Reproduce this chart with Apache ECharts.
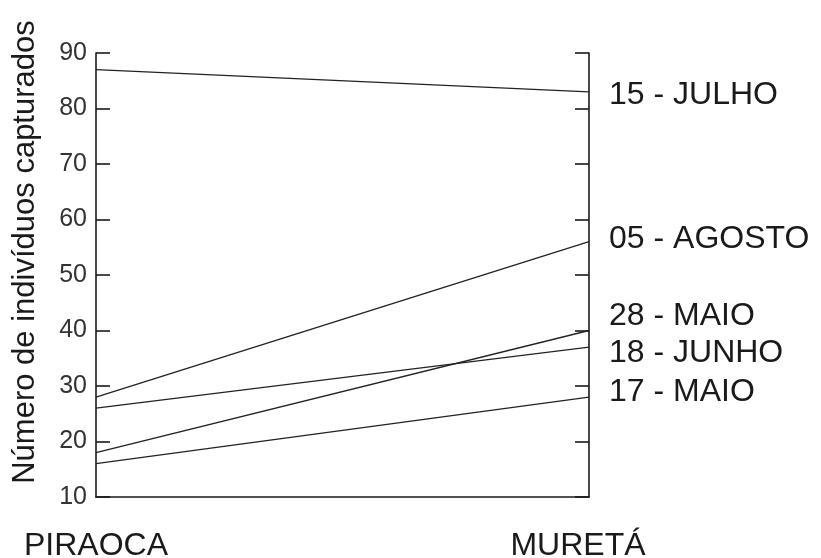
<!DOCTYPE html>
<html>
<head>
<meta charset="utf-8">
<script src="https://cdn.jsdelivr.net/npm/echarts@6/dist/echarts.min.js"></script>
<style>
  html, body { margin: 0; padding: 0; background: #fff; }
  #chart { width: 821px; height: 558px; }
</style>
</head>
<body>
<div id="chart"></div>
<script>
// Sampling sites (x positions) and capture dates (one line each)
const sites = ['PIRAOCA', 'MURETÁ'];
const dates = ['15 - JULHO', '05 - AGOSTO', '28 - MAIO', '18 - JUNHO', '17 - MAIO'];

// Individuals captured at each site, per date
const julho15 = [87, 83];
const agosto05 = [28, 56];
const maio28 = [18, 40];
const junho18 = [26, 37];
const maio17 = [16, 28];

const yTicks = { min: 10, max: 90, step: 10 };

const counts = [julho15, agosto05, maio28, junho18, maio17];
// vertical nudges keeping the end labels apart
const labelShift = [3, -3, -14, 6, -5];

const FONT = '"Liberation Sans", Arial, Helvetica, sans-serif';
const INK = '#1a1a1a';

const chart = echarts.init(document.getElementById('chart'), null, { renderer: 'canvas' });

const axisCommon = {
  type: 'value',
  min: yTicks.min,
  max: yTicks.max,
  interval: yTicks.step,
  splitLine: { show: false },
  axisLine: { show: true, lineStyle: { color: INK, width: 1.6 } },
  axisTick: { show: true, inside: true, length: 14, lineStyle: { color: INK, width: 1.6 } }
};

chart.setOption({
  animation: false,
  backgroundColor: '#ffffff',
  grid: { left: 96, right: 232, top: 53, bottom: 61, containLabel: false, outerBoundsMode: 'none' },
  xAxis: {
    type: 'category',
    data: sites,
    boundaryGap: false,
    axisLine: { show: true, lineStyle: { color: INK, width: 1.6 } },
    axisTick: { show: false },
    splitLine: { show: false },
    axisLabel: {
      margin: 33,
      interval: 0,
      formatter: function (v, i) { return i === 0 ? '{a|' + v + '}' : '{b|' + v + '}'; },
      rich: {
        a: { fontFamily: FONT, fontSize: 32, color: INK },
        b: { fontFamily: FONT, fontSize: 32, color: INK, padding: [0, 22, 0, 0] }
      }
    }
  },
  yAxis: [
    Object.assign({}, axisCommon, {
      position: 'left',
      name: 'Número de indivíduos capturados',
      nameLocation: 'middle',
      nameGap: 55,
      nameTextStyle: { fontFamily: FONT, fontSize: 31, color: INK, padding: [0, 0, 0, 46] },
      axisLabel: { show: true, margin: 9, fontFamily: FONT, fontSize: 25, color: '#333' }
    }),
    Object.assign({}, axisCommon, {
      position: 'right',
      axisLabel: { show: false }
    })
  ],
  series: counts.map(function (vals, i) {
    return {
      name: dates[i],
      type: 'line',
      xAxisIndex: 0,
      yAxisIndex: 0,
      data: vals,
      symbol: 'none',
      lineStyle: { color: '#222', width: 1.3 },
      endLabel: {
        show: true,
        formatter: '{a}',
        distance: 20,
        offset: [0, labelShift[i]],
        fontFamily: FONT,
        fontSize: 32,
        color: INK
      }
    };
  })
});
</script>
</body>
</html>
